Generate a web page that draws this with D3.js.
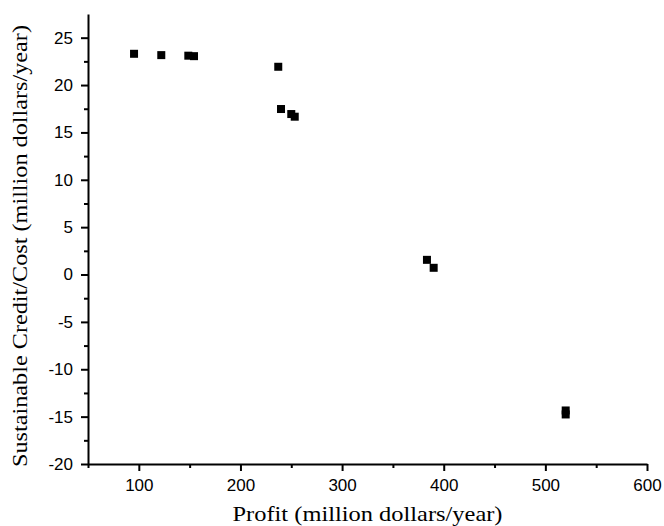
<!DOCTYPE html>
<html>
<head>
<meta charset="utf-8">
<script src="https://cdn.jsdelivr.net/npm/d3@7"></script>
<style>
  body { margin: 0; background: #fff; }
  .tick text { font-family: "Liberation Sans", Arial, sans-serif; font-size: 17px; fill: #000; }
  .axis-title { font-family: "Liberation Serif", "Times New Roman", serif; font-size: 21px; fill: #000; }
</style>
</head>
<body>
<svg id="chart" width="664" height="526"></svg>
<script>
// profit (million dollars/year) and sustainable credit/cost (million dollars/year)
const profit = [95.3, 122.1, 148.7, 154.3, 237.2, 239.9, 250.0, 253.4, 383.5, 390.1, 520.0, 520.0];
const credit = [23.3, 23.16, 23.1, 23.05, 21.93, 17.47, 16.94, 16.66, 1.55, 0.71, -14.35, -14.77];

const xTicks = [100, 200, 300, 400, 500, 600];
const xMinor = [50, 150, 250, 350, 450, 550];
const yTicks = [-20, -15, -10, -5, 0, 5, 10, 15, 20, 25];
const yMinor = [-17.5, -12.5, -7.5, -2.5, 2.5, 7.5, 12.5, 17.5, 22.5];

const svg = d3.select('#chart');
const margin = { top: 14, right: 17, bottom: 62, left: 88 };
const width = 664 - margin.left - margin.right,
  height = 526 - margin.top - margin.bottom;

const x = d3.scaleLinear().domain([50, 600]).range([0, width]);
const y = d3.scaleLinear().domain([-20, 27.5]).range([height, 0]);

const g = svg.append('g')
  .attr('transform', `translate(${margin.left},${margin.top})`);

// minor ticks first
g.append('g')
  .attr('transform', `translate(0,${height})`)
  .call(d3.axisBottom(x).tickValues(xMinor).tickSize(4).tickFormat(''))
  .call(a => a.select('.domain').remove());
g.append('g')
  .call(d3.axisLeft(y).tickValues(yMinor).tickSize(4).tickFormat(''))
  .call(a => a.select('.domain').remove());

// plain hyphen for negatives, like the original
const fmt = (d) => String(d);

g.append('g')
  .attr('class', 'axis axis--x')
  .attr('transform', `translate(0,${height})`)
  .call(d3.axisBottom(x).tickValues(xTicks).tickFormat(fmt).tickSize(7).tickSizeOuter(0).tickPadding(8));

g.append('g')
  .attr('class', 'axis axis--y')
  .call(d3.axisLeft(y).tickValues(yTicks).tickFormat(fmt).tickSize(7).tickSizeOuter(0).tickPadding(8));

g.selectAll('.domain, .tick line').attr('stroke', '#000').attr('stroke-width', 2);

// marks
const s = 8;
g.selectAll('.pt')
  .data(profit)
  .enter()
  .append('rect')
  .attr('class', 'pt')
  .attr('x', (d) => x(d) - s / 2)
  .attr('y', (d, i) => y(credit[i]) - s / 2)
  .attr('width', s)
  .attr('height', s)
  .attr('fill', '#000');

svg.append('text')
  .attr('class', 'axis-title')
  .attr('x', margin.left + width / 2)
  .attr('y', 521)
  .attr('text-anchor', 'middle')
  .attr('textLength', 270)
  .attr('lengthAdjust', 'spacingAndGlyphs')
  .text('Profit (million dollars/year)');

svg.append('text')
  .attr('class', 'axis-title')
  .attr('transform', 'translate(27,246) rotate(-90)')
  .attr('text-anchor', 'middle')
  .attr('textLength', 442)
  .attr('lengthAdjust', 'spacingAndGlyphs')
  .text('Sustainable Credit/Cost (million dollars/year)');
</script>
</body>
</html>
